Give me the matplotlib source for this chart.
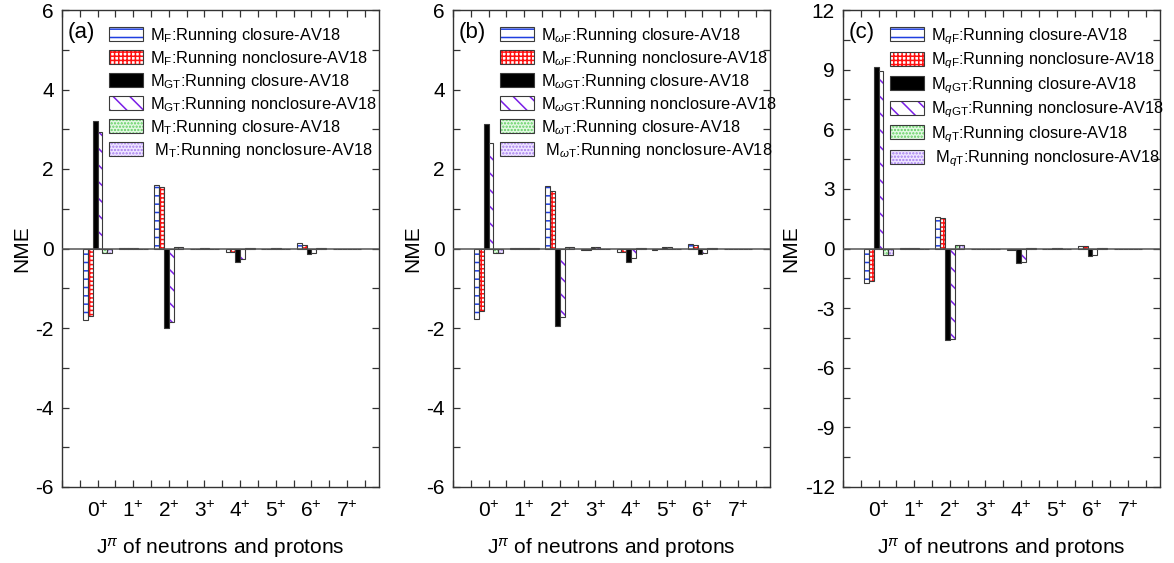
import matplotlib
matplotlib.use('Agg')
import matplotlib.pyplot as plt
from matplotlib.patches import Patch
from matplotlib.legend_handler import HandlerTuple
from matplotlib.ticker import MultipleLocator
import numpy as np

plt.rcParams['font.family'] = ['Liberation Sans', 'DejaVu Sans']
plt.rcParams['mathtext.fontset'] = 'custom'
plt.rcParams['mathtext.rm'] = 'Liberation Sans'
plt.rcParams['mathtext.it'] = 'Liberation Sans:italic'
plt.rcParams['axes.unicode_minus'] = False
plt.rcParams['hatch.linewidth'] = 1.1

# J^pi categories
categories = ['0', '1', '2', '3', '4', '5', '6', '7']

# panel (a): M_F, M_GT, M_T
a_F_c = [-1.80, 0.01, 1.60, -0.02, -0.10, -0.02, 0.13, 0.0]
a_F_n = [-1.70, 0.01, 1.55, -0.02, -0.08, -0.01, 0.10, 0.0]
a_GT_c = [3.22, 0.02, -2.00, 0.02, -0.33, 0.02, -0.15, 0.0]
a_GT_n = [2.93, 0.02, -1.85, 0.02, -0.27, 0.02, -0.12, 0.0]
a_T_c = [-0.12, 0.0, 0.04, 0.0, 0.01, 0.0, 0.01, 0.0]
a_T_n = [-0.12, 0.0, 0.04, 0.0, 0.01, 0.0, 0.01, 0.0]

# panel (b): M_omegaF, M_omegaGT, M_omegaT
b_F_c = [-1.77, 0.01, 1.57, -0.03, -0.10, -0.03, 0.12, 0.0]
b_F_n = [-1.58, 0.01, 1.45, -0.03, -0.08, -0.02, 0.10, 0.0]
b_GT_c = [3.13, 0.02, -1.95, 0.03, -0.33, 0.05, -0.15, 0.0]
b_GT_n = [2.65, 0.02, -1.72, 0.03, -0.23, 0.05, -0.12, 0.0]
b_T_c = [-0.12, 0.01, 0.04, 0.0, 0.01, 0.0, 0.01, 0.0]
b_T_n = [-0.12, 0.01, 0.04, 0.0, 0.01, 0.0, 0.01, 0.0]

# panel (c): M_qF, M_qGT, M_qT
c_F_c = [-1.75, 0.03, 1.60, 0.0, -0.10, -0.05, 0.15, 0.0]
c_F_n = [-1.65, 0.03, 1.55, 0.0, -0.10, -0.03, 0.15, 0.0]
c_GT_c = [9.12, 0.05, -4.60, 0.0, -0.75, 0.02, -0.40, 0.0]
c_GT_n = [8.95, 0.05, -4.55, 0.0, -0.70, 0.02, -0.33, 0.0]
c_T_c = [-0.35, 0.0, 0.20, 0.0, 0.02, 0.0, 0.02, 0.0]
c_T_n = [-0.35, 0.0, 0.20, 0.0, 0.02, 0.0, 0.02, 0.0]

panels = [
    ('(a)', '', [a_F_c, a_F_n, a_GT_c, a_GT_n, a_T_c, a_T_n], 6, 2),
    ('(b)', r'\omega', [b_F_c, b_F_n, b_GT_c, b_GT_n, b_T_c, b_T_n], 6, 2),
    ('(c)', 'q', [c_F_c, c_F_n, c_GT_c, c_GT_n, c_T_c, c_T_n], 12, 3),
]

# (face, hatch colour, hatch) for each of the six series
styles = [
    ('white', '#1f3fe0', '--'),
    ('white', '#ff1010', '++++'),
    ('black', 'black', None),
    ('white', '#7a1ee6', '\\\\'),
    ('#e4f8e4', '#5fcf5f', '.....'),
    ('#efe6ff', '#a57cf0', '.....'),
]
edge = '#3a3a3a'

fig = plt.figure(figsize=(11.74, 5.63), dpi=100)
lefts = [62, 453, 843]
x = np.arange(len(categories))
w = 0.135

for left, (tag, pre, series, ymax, ystep) in zip(lefts, panels):
    ax = fig.add_axes([left / 1174, 76 / 563, 317 / 1174, 477 / 563])
    handles = []
    for i, (vals, (fc, hc, h)) in enumerate(zip(series, styles)):
        pos = x + (i - 2.5) * w
        if h is None:
            ax.bar(pos, vals, w, color=fc, edgecolor=edge, lw=0.8, zorder=2)
            handles.append(Patch(facecolor=fc, edgecolor=edge, lw=0.8))
        else:
            ax.bar(pos, vals, w, color=fc, edgecolor=hc, hatch=h, lw=0, zorder=2)
            ax.bar(pos, vals, w, fill=False, edgecolor=edge, lw=0.8, zorder=3)
            handles.append((Patch(facecolor=fc, edgecolor=hc, hatch=h, lw=0),
                            Patch(fill=False, edgecolor=edge, lw=0.8)))
    ax.axhline(0, color='#555555', lw=1.1, zorder=4)

    sub_F = r'M$_{%s\mathrm{F}}$' % pre
    sub_GT = r'M$_{%s\mathrm{GT}}$' % pre
    sub_T = r'M$_{%s\mathrm{T}}$' % pre
    labels = [sub_F + ':Running closure-AV18',
              sub_F + ':Running nonclosure-AV18',
              sub_GT + ':Running closure-AV18',
              sub_GT + ':Running nonclosure-AV18',
              sub_T + ':Running closure-AV18',
              ' ' + sub_T + ':Running nonclosure-AV18']
    ax.legend(handles, labels, handler_map={tuple: HandlerTuple(ndivide=1, pad=0)},
              loc='upper left', bbox_to_anchor=(47 / 317, 1 - 16 / 477), frameon=False,
              borderpad=0, borderaxespad=0, handlelength=2.1, handleheight=0.95,
              handletextpad=0.38, labelspacing=0.24, fontsize=11.8)
    ax.text(0.019, 0.952, tag, transform=ax.transAxes, fontsize=16, va='center')

    ax.set_xlim(-1.0, 7.9)
    ax.set_ylim(-ymax, ymax)
    ax.set_xticks(x)
    ax.set_xticklabels([c + r'$^{+}$' for c in categories], fontsize=15)
    ax.xaxis.set_minor_locator(MultipleLocator(0.5))
    ax.yaxis.set_major_locator(MultipleLocator(ystep))
    ax.yaxis.set_minor_locator(MultipleLocator(ystep / 2))
    ax.tick_params(which='both', direction='in', top=True, right=True,
                   length=5, width=0.9, color='#333333', labelsize=15)
    ax.tick_params(axis='x', which='major', pad=10)
    ax.tick_params(axis='y', which='major', pad=6)
    for s in ax.spines.values():
        s.set_color('#333333')
        s.set_linewidth(1.0)
    ax.set_ylabel('NME', fontsize=15, labelpad=3)
    ax.set_xlabel(r'J$^{\pi}$ of neutrons and protons', fontsize=15, labelpad=11)

fig.savefig('out.png', dpi=100)
